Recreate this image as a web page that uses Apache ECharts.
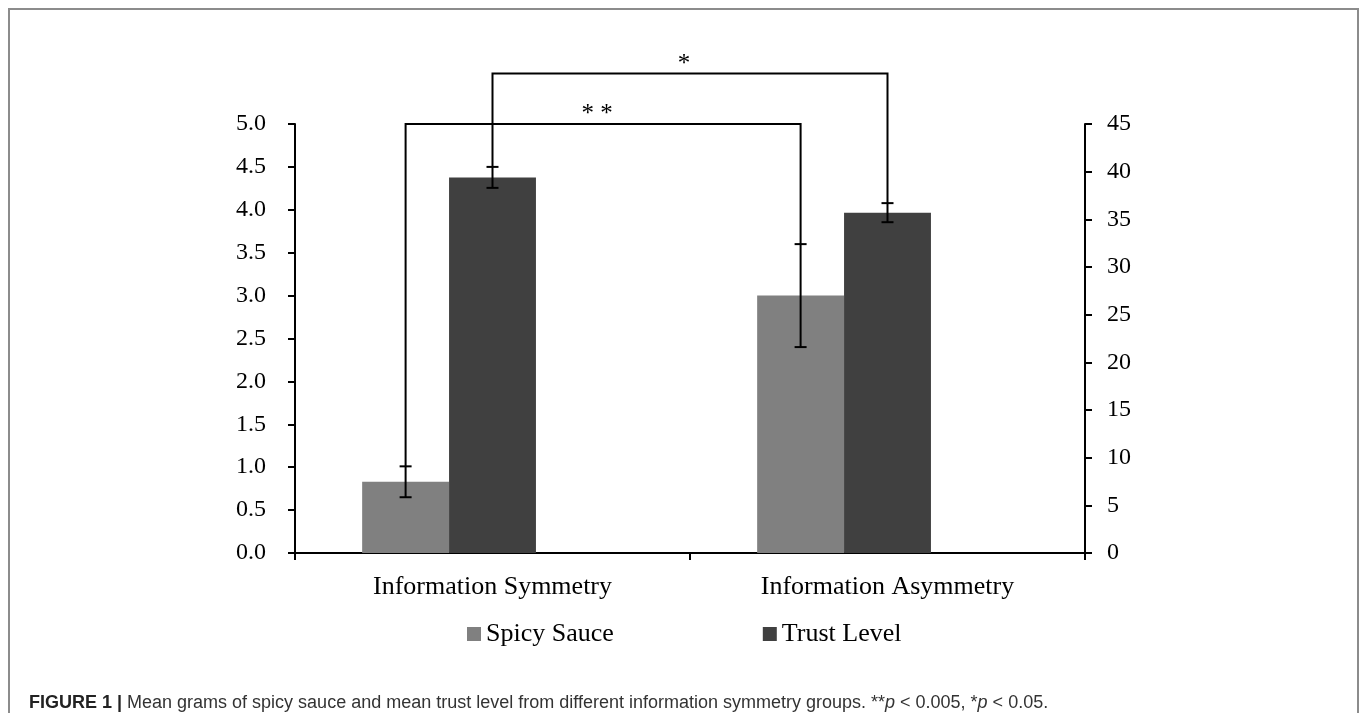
<!DOCTYPE html>
<html>
<head>
<meta charset="utf-8">
<script src="https://cdn.jsdelivr.net/npm/echarts@6/dist/echarts.min.js"></script>
<style>
  html, body { margin: 0; padding: 0; background: #fff; }
  #main { width: 1362px; height: 713px; }
</style>
</head>
<body>
<div id="main"></div>
<script>
// 数据
var categories = ['Information Symmetry', 'Information Asymmetry'];
var spicyMean = [0.83, 3.0];
var spicyErr = [0.18, 0.6];
var trustMean = [39.4, 35.7];
var trustErr = [1.1, 1.0];
// 显著性括号: [顶部位置, 标记]
var bracketSpicy = [5.0, '* *'];
var bracketTrust = [50.3, '*'];

(function () {
    var myChart = echarts.init(document.getElementById('main'));
    var serif = '"Liberation Serif", "Times New Roman", serif';
    var sans = '"Liberation Sans", Arial, sans-serif';
    var gapRatio = 0.34;

    // 每组3个位置 (辣酱, 信任, 空), 计算偏移
    function slotOffset(api, slot) {
        var bw = api.size([1, 0])[0] * (1 - gapRatio) / 3;
        return (slot - 1) * bw;
    }

    function errorSeries(name, yIndex, slot, mean, err) {
        return {
            name: name,
            type: 'custom',
            yAxisIndex: yIndex,
            silent: true,
            z: 5,
            data: mean.map(function (m, i) { return [i, m - err[i], m + err[i]]; }),
            renderItem: function (params, api) {
                var lo = api.coord([api.value(0), api.value(1)]);
                var hi = api.coord([api.value(0), api.value(2)]);
                var x = lo[0] + slotOffset(api, slot);
                var style = { stroke: '#000', lineWidth: 2 };
                return {
                    type: 'group',
                    children: [
                        { type: 'line', shape: { x1: x, y1: lo[1], x2: x, y2: hi[1] }, style: style },
                        { type: 'line', shape: { x1: x - 6, y1: lo[1], x2: x + 6, y2: lo[1] }, style: style },
                        { type: 'line', shape: { x1: x - 6, y1: hi[1], x2: x + 6, y2: hi[1] }, style: style }
                    ]
                };
            }
        };
    }

    function bracketSeries(yIndex, slot, mean, err, bracket) {
        return {
            type: 'custom',
            yAxisIndex: yIndex,
            silent: true,
            clip: false,
            z: 6,
            data: [[bracket[0]]],
            renderItem: function (params, api) {
                var off = slotOffset(api, slot);
                var a = api.coord([0, mean[0] + err[0]]);
                var b = api.coord([1, mean[1] + err[1]]);
                var top = api.coord([0, api.value(0)])[1];
                var xa = a[0] + off, xb = b[0] + off;
                return {
                    type: 'group',
                    children: [
                        {
                            type: 'polyline',
                            shape: { points: [[xa, a[1]], [xa, top], [xb, top], [xb, b[1]]] },
                            style: { stroke: '#000', lineWidth: 2, fill: null }
                        },
                        {
                            type: 'text',
                            x: (xa + xb) / 2 - 6,
                            y: top + 3,
                            style: {
                                text: bracket[1], fill: '#000', fontSize: 25, fontFamily: serif,
                                align: 'center', verticalAlign: 'bottom'
                            }
                        }
                    ]
                };
            }
        };
    }

    var option = {
        animation: false,
        backgroundColor: '#fff',
        title: {
            left: 24,
            top: 689,
            text: '{b|FIGURE 1 |} Mean grams of spicy sauce and mean trust level from different information symmetry groups. **{i|p} < 0.005, *{i|p} < 0.05.',
            textStyle: {
                fontFamily: sans,
                fontSize: 18,
                fontWeight: 'normal',
                color: '#333',
                rich: {
                    b: { fontWeight: 'bold', fontSize: 18, color: '#222', fontFamily: sans },
                    i: { fontStyle: 'italic', fontSize: 18, color: '#333', fontFamily: sans }
                }
            }
        },
        graphic: [{
            type: 'rect',
            shape: { x: 9, y: 9, width: 1349, height: 740 },
            style: { fill: null, stroke: '#8c8c8c', lineWidth: 2 },
            silent: true
        }],
        legend: {
            data: ['Spicy Sauce', 'Trust Level'],
            left: 462,
            top: 616,
            icon: 'rect',
            itemWidth: 14,
            itemHeight: 14,
            itemGap: 149,
            textStyle: { fontFamily: serif, fontSize: 26, color: '#000' }
        },
        grid: {
            left: 295,
            right: 277,
            top: 124,
            bottom: 160,
            containLabel: false
        },
        xAxis: {
            type: 'category',
            data: categories,
            axisLine: { lineStyle: { color: '#000', width: 2 } },
            axisTick: { show: true, interval: 0, length: 7, lineStyle: { color: '#000', width: 2 } },
            axisLabel: { color: '#000', fontFamily: serif, fontSize: 26, margin: 21 },
            splitLine: { show: false }
        },
        yAxis: [
            {
                type: 'value',
                min: 0,
                max: 5,
                interval: 0.5,
                position: 'left',
                axisLine: { show: true, lineStyle: { color: '#000', width: 2 } },
                axisTick: { show: true, length: 7, lineStyle: { color: '#000', width: 2 } },
                axisLabel: {
                    color: '#000', fontFamily: serif, fontSize: 24, margin: 29,
                    formatter: function (v) { return v.toFixed(1); }
                },
                splitLine: { show: false }
            },
            {
                type: 'value',
                min: 0,
                max: 45,
                interval: 5,
                position: 'right',
                axisLine: { show: true, lineStyle: { color: '#000', width: 2 } },
                axisTick: { show: true, length: 7, lineStyle: { color: '#000', width: 2 } },
                axisLabel: { color: '#000', fontFamily: serif, fontSize: 24, margin: 22 },
                splitLine: { show: false }
            }
        ],
        series: [
            {
                name: 'Spicy Sauce',
                type: 'bar',
                yAxisIndex: 0,
                data: spicyMean,
                barGap: 0,
                barCategoryGap: '34%',
                itemStyle: { color: '#808080' }
            },
            {
                name: 'Trust Level',
                type: 'bar',
                yAxisIndex: 1,
                data: trustMean,
                itemStyle: { color: '#404040' }
            },
            {
                // 空位, 让柱子偏左
                name: 'blank',
                type: 'bar',
                yAxisIndex: 0,
                data: [null, null]
            },
            errorSeries('spicyErr', 0, 0, spicyMean, spicyErr),
            errorSeries('trustErr', 1, 1, trustMean, trustErr),
            bracketSeries(0, 0, spicyMean, spicyErr, bracketSpicy),
            bracketSeries(1, 1, trustMean, trustErr, bracketTrust)
        ]
    };
    myChart.setOption(option);
    window.addEventListener('resize', function () {
        myChart.resize();
    });
})();
</script>
</body>
</html>
